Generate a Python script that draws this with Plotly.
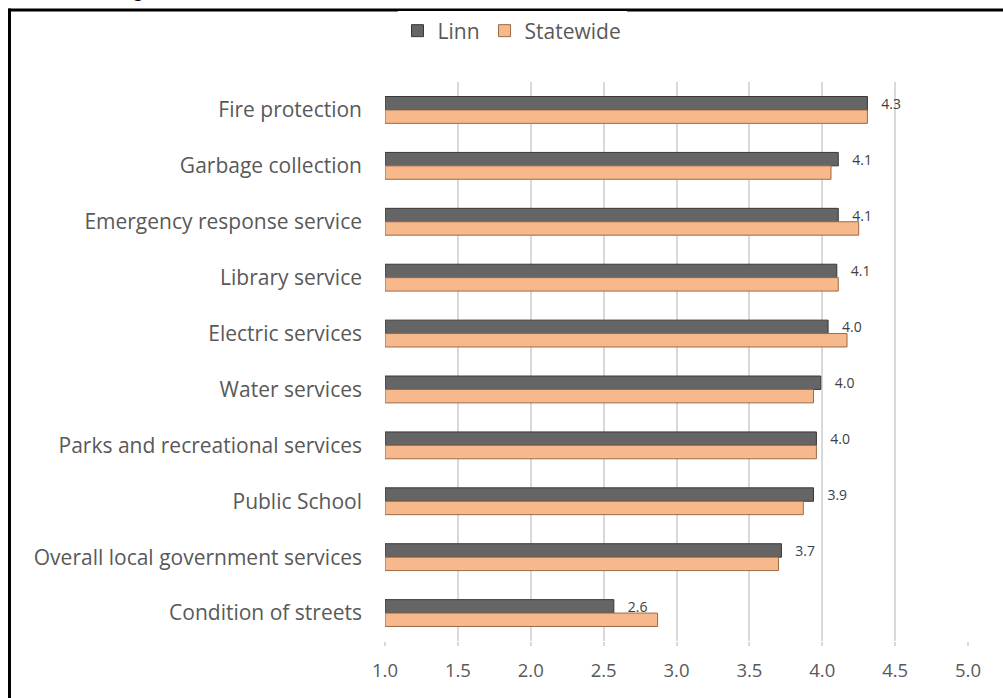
import plotly.graph_objects as go

categories = [
    "Fire protection",
    "Garbage collection",
    "Emergency response service",
    "Library service",
    "Electric services",
    "Water services",
    "Parks and recreational services",
    "Public School",
    "Overall local government services",
    "Condition of streets",
]
linn = [4.31, 4.11, 4.11, 4.10, 4.04, 3.99, 3.96, 3.94, 3.72, 2.57]
statewide = [4.31, 4.06, 4.25, 4.11, 4.17, 3.94, 3.96, 3.87, 3.70, 2.87]
x_ticks = [1.0, 1.5, 2.0, 2.5, 3.0, 3.5, 4.0, 4.5, 5.0]
base_value = 1.0

W, H = 1003, 698
L, R, T, B = 385, 35, 82, 57
pw, ph = W - L - R, H - T - B

def px_to_paper_x(px):
    return (px - L) / pw

def px_to_paper_y(py):
    return (H - B - py) / ph

font_family = "Open Sans, Noto Sans, sans-serif"
gray = "#595959"

fig = go.Figure()
fig.add_trace(go.Bar(
    name="Linn",
    y=categories,
    x=[v - base_value for v in linn],
    base=base_value,
    orientation="h",
    marker=dict(color="#656565", line=dict(color="#383838", width=1)),
    text=[f"{v:.1f}" for v in linn],
    texttemplate="   %{text}",
    textposition="outside",
    constraintext="none",
    cliponaxis=False,
    textfont=dict(size=14, color="#404040", family=font_family),
))
fig.add_trace(go.Bar(
    name="Statewide",
    y=categories,
    x=[v - base_value for v in statewide],
    base=base_value,
    orientation="h",
    marker=dict(color="#f7b98b", line=dict(color="#9c6a48", width=1)),
))

fig.update_layout(
    width=W, height=H,
    margin=dict(l=L, r=R, t=T, b=B, autoexpand=False),
    paper_bgcolor="white",
    plot_bgcolor="white",
    barmode="group",
    bargap=0.52,
    bargroupgap=0.0,
    font=dict(family=font_family, color=gray),
    showlegend=True,
    legend=dict(
        orientation="h",
        x=px_to_paper_x(512), xanchor="center",
        y=px_to_paper_y(31), yanchor="middle",
        font=dict(size=21, color=gray, family=font_family),
        traceorder="normal",
        itemwidth=30,
    ),
    xaxis=dict(
        range=[1.0, 5.0],
        tickvals=x_ticks,
        ticktext=[f"{t:.1f}" for t in x_ticks],
        showgrid=True,
        gridcolor="#d9d9d9",
        gridwidth=2,
        zeroline=False,
        showline=False,
        ticks="outside",
        ticklen=4,
        tickcolor="#d9d9d9",
        tickwidth=2,
        tickfont=dict(size=18.5, color=gray, family=font_family),
        ticklabelstandoff=9,
    ),
    yaxis=dict(
        autorange="reversed",
        showgrid=False,
        showline=False,
        ticks="",
        tickfont=dict(size=21, color=gray, family=font_family),
        ticklabelstandoff=22,
    ),
    shapes=[
        dict(type="line", xref="paper", yref="paper",
             x0=px_to_paper_x(8.5), x1=px_to_paper_x(1010),
             y0=px_to_paper_y(10), y1=px_to_paper_y(10),
             line=dict(color="black", width=3)),
        dict(type="line", xref="paper", yref="paper",
             x0=px_to_paper_x(9.5), x1=px_to_paper_x(9.5),
             y0=px_to_paper_y(8.5), y1=px_to_paper_y(710),
             line=dict(color="black", width=3)),
    ],
    annotations=[
        dict(text="<b>Rating</b>", xref="paper", yref="paper",
             x=px_to_paper_x(146), xanchor="right",
             y=px_to_paper_y(3), yanchor="bottom",
             showarrow=False, font=dict(size=20, color="black", family="Liberation Sans, sans-serif")),
    ],
)

fig.write_html(
    "out.html",
    config={"displayModeBar": False},
    post_script="document.body.style.margin='0';document.body.style.overflow='hidden';",
)
